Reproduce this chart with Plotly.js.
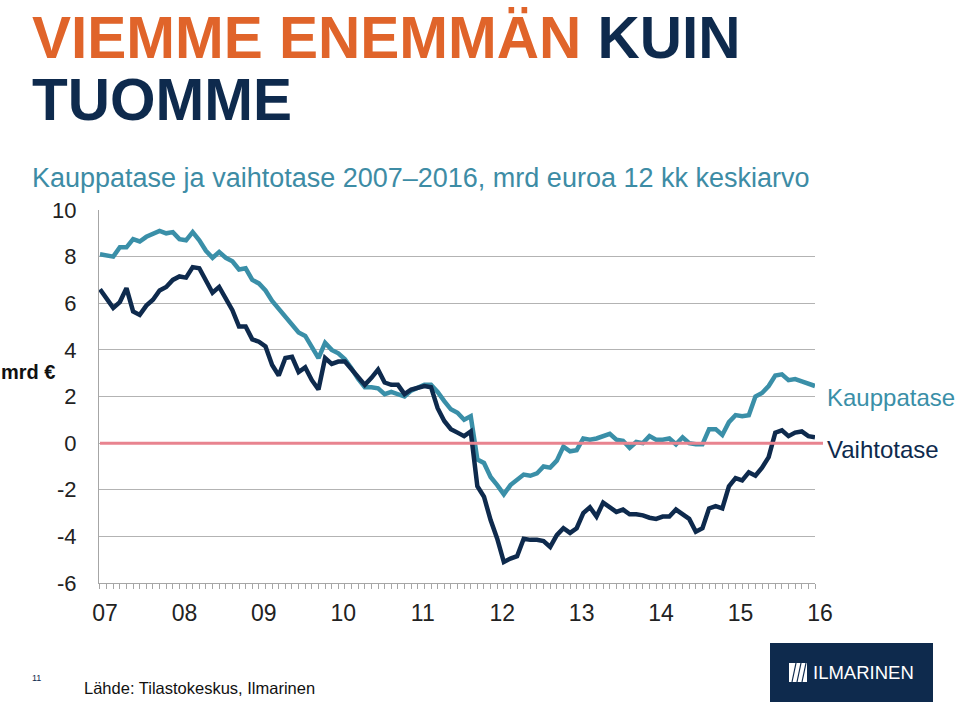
<!DOCTYPE html>
<html>
<head>
<meta charset="utf-8">
<script src="https://cdn.plot.ly/plotly-3.0.1.min.js"></script>
<style>
html,body{margin:0;padding:0;background:#fff;}
#chart{width:960px;height:702px;}
</style>
</head>
<body>
<div id="chart"></div>
<script>
// Year tick labels (Jan of each year, monthly data from Jan 2007)
const yearLabels = ['07','08','09','10','11','12','13','14','15','16'];
// Y axis tick values and labels (hyphen minus as in the original)
const yTickVals = [-6, -4, -2, 0, 2, 4, 6, 8, 10];
const yTickText = ['-6', '-4', '-2', '0', '2', '4', '6', '8', '10'];

// Kauppatase (trade balance), bn EUR, 12-month average, monthly
const kauppatase = [
  8.1, 8.05, 8.0, 8.4, 8.4, 8.75, 8.65, 8.85, 8.95, 9.1, 9.0, 9.05,
  8.75, 8.7, 9.05, 8.7, 8.25, 7.95, 8.2, 7.95, 7.8, 7.45, 7.5, 7.0,
  6.85, 6.55, 6.1, 5.75, 5.45, 5.05, 4.75, 4.6, 4.15, 3.65, 4.3, 4.0,
  3.85, 3.6, 3.2, 2.75, 2.4, 2.4, 2.35, 2.1, 2.2, 2.1, 2.0, 2.25,
  2.4, 2.5, 2.5, 2.2, 1.8, 1.45, 1.3, 1.0, 1.15, -0.7, -0.85, -1.45,
  -1.8, -2.2, -1.8, -1.6, -1.35, -1.4, -1.3, -1.0, -1.05, -0.75, -0.15, -0.35,
  -0.3, 0.2, 0.15, 0.2, 0.3, 0.4, 0.15, 0.1, -0.2, 0.05, 0.0, 0.3,
  0.15, 0.15, 0.2, -0.05, 0.25, 0.0, -0.05, -0.05, 0.6, 0.6, 0.35, 0.9,
  1.2, 1.15, 1.2, 2.0, 2.15, 2.45, 2.9, 2.95, 2.7, 2.75, 2.65, 2.55,
  2.45
];

// Vaihtotase (current account), bn EUR, 12-month average, monthly
const vaihtotase = [
  6.6, 6.2, 5.8, 6.05, 6.65, 5.65, 5.5, 5.9, 6.15, 6.55, 6.7, 7.0,
  7.15, 7.1, 7.55, 7.5, 7.0, 6.45, 6.7, 6.2, 5.7, 5.0, 5.0, 4.45,
  4.35, 4.15, 3.35, 2.9, 3.65, 3.7, 3.05, 3.25, 2.7, 2.3, 3.65, 3.4,
  3.5, 3.5, 3.15, 2.85, 2.5, 2.8, 3.15, 2.6, 2.5, 2.5, 2.1, 2.3,
  2.4, 2.45, 2.4, 1.5, 0.95, 0.6, 0.45, 0.3, 0.5, -1.85, -2.3, -3.3,
  -4.1, -5.1, -4.95, -4.85, -4.1, -4.15, -4.15, -4.2, -4.45, -3.95, -3.65, -3.85,
  -3.65, -3.0, -2.75, -3.15, -2.55, -2.75, -2.95, -2.85, -3.05, -3.05, -3.1, -3.2,
  -3.25, -3.15, -3.15, -2.85, -3.05, -3.25, -3.8, -3.65, -2.8, -2.7, -2.8, -1.85,
  -1.5, -1.6, -1.25, -1.4, -1.05, -0.6, 0.45, 0.55, 0.3, 0.45, 0.5, 0.3,
  0.25
];

const TEAL = '#3a8fa8';
const NAVY = '#0e2a4d';
const ORANGE = '#e0642a';
const PINK = '#e8838f';

// plot area in pixels
const L = 99, R = 815, T = 210, B = 583;
const px = x => (x - L) / (R - L);
const py = y => (B - y) / (B - T);

const traces = [
  {type:'scatter', mode:'lines', name:'Kauppatase', y:kauppatase, x0:0, dx:1,
   line:{color:TEAL, width:4.5}},
  {type:'scatter', mode:'lines', name:'Vaihtotase', y:vaihtotase, x0:0, dx:1,
   line:{color:NAVY, width:4.5}}
];

const FONT = 'Liberation Sans, Arial, sans-serif';

function ann(text, x, y, size, color, opts) {
  return Object.assign({text:text, xref:'paper', yref:'paper', x:px(x), y:py(y),
    xanchor:'left', yanchor:'middle', showarrow:false,
    font:{family:FONT, size:size, color:color}}, opts || {});
}

const layout = {
  width:960, height:702,
  margin:{l:L, r:960-R, t:T, b:702-B, pad:0},
  paper_bgcolor:'#fff', plot_bgcolor:'#fff',
  showlegend:false,
  xaxis:{
    range:[-0.15, 108], showgrid:false, zeroline:false,
    showline:true, linecolor:'#a6a6a6', linewidth:1,
    tickmode:'array', tickvals:yearLabels.map((_, k) => 12*k), ticktext:yearLabels,
    ticks:'', tickfont:{family:FONT, size:23, color:'#222'}, ticklabelstandoff:9, ticklabelshift:5,
    minor:{ticks:'outside', ticklen:5, tickcolor:'#a6a6a6', tickwidth:1, dtick:1, tick0:0, showgrid:false}
  },
  yaxis:{
    range:[-6, 10], tickmode:'array', tickvals:yTickVals, ticktext:yTickText,
    showgrid:true, gridcolor:'#b3b3b3', gridwidth:1,
    zeroline:false, showline:true, linecolor:'#a6a6a6', linewidth:1,
    ticks:'', tickfont:{family:FONT, size:22, color:'#222'}, ticklabelstandoff:17
  },
  shapes:[
    {type:'line', xref:'paper', yref:'y', x0:px(100), x1:px(823), y0:0, y1:0,
     line:{color:PINK, width:3}},
    {type:'rect', xref:'paper', yref:'paper', x0:px(770), x1:px(933), y0:py(643), y1:py(702),
     fillcolor:NAVY, line:{width:0}},
    {type:'rect', xref:'paper', yref:'paper', x0:px(789), x1:px(807), y0:py(663), y1:py(682),
     fillcolor:'#fff', line:{width:0}},
    {type:'line', xref:'paper', yref:'paper', x0:px(792), x1:px(796), y0:py(682), y1:py(663), line:{color:NAVY, width:1.2}},
    {type:'line', xref:'paper', yref:'paper', x0:px(797), x1:px(801), y0:py(682), y1:py(663), line:{color:NAVY, width:1.2}},
    {type:'line', xref:'paper', yref:'paper', x0:px(802), x1:px(806), y0:py(682), y1:py(663), line:{color:NAVY, width:1.2}}
  ],
  annotations:[
    ann('<b><span style="color:'+ORANGE+'">VIEMME ENEMMÄN</span> KUIN</b>', 30, 38, 58.5, NAVY),
    ann('<b>TUOMME</b>', 30, 99, 58.5, NAVY),
    ann('Kauppatase ja vaihtotase 2007–2016, mrd euroa 12 kk keskiarvo', 30, 178, 27, '#3d8ca5'),
    ann('<b>mrd €</b>', -1, 372, 20, '#111'),
    ann('Kauppatase', 825, 397, 24, TEAL),
    ann('Vaihtotase', 825, 449, 24, NAVY),
    ann('11', 30, 678, 9, NAVY),
    ann('Lähde: Tilastokeskus, Ilmarinen', 82, 688, 16.5, '#111'),
    ann('ILMARINEN', 811, 672, 18.5, '#fff')
  ]
};

Plotly.newPlot('chart', traces, layout, {staticPlot:true, displayModeBar:false});
</script>
</body>
</html>
